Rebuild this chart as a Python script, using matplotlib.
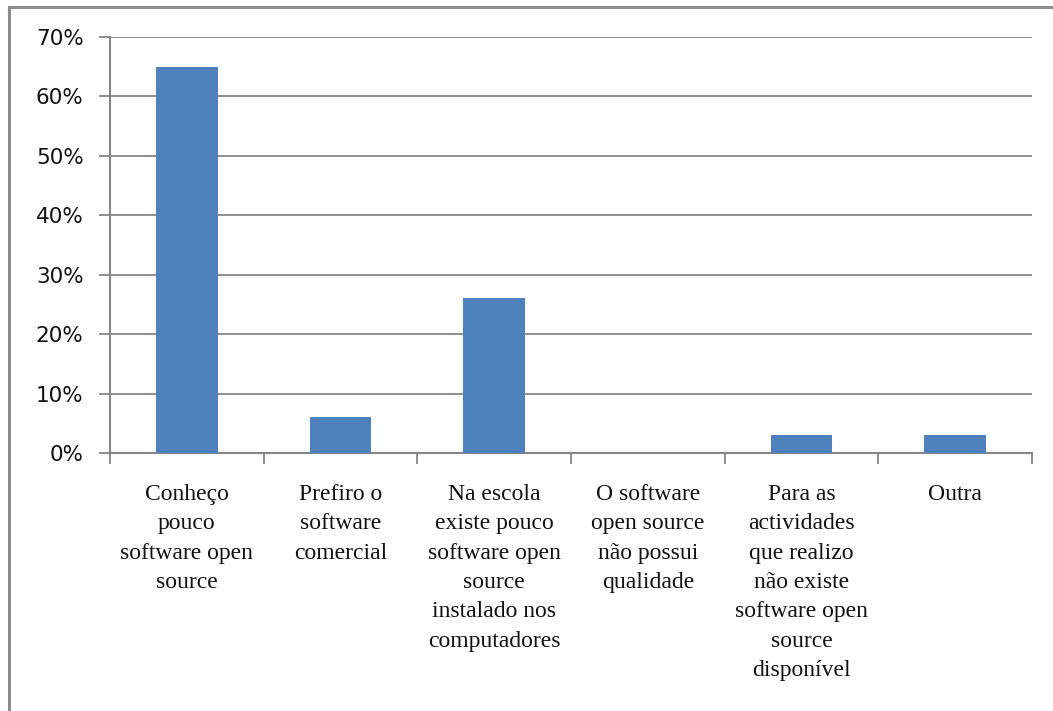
import matplotlib
matplotlib.use("Agg")
import matplotlib.pyplot as plt
from matplotlib.lines import Line2D
import numpy as np

categories = [
    "Conheço\npouco\nsoftware open\nsource",
    "Prefiro o\nsoftware\ncomercial",
    "Na escola\nexiste pouco\nsoftware open\nsource\ninstalado nos\ncomputadores",
    "O software\nopen source\nnão possui\nqualidade",
    "Para as\nactividades\nque realizo\nnão existe\nsoftware open\nsource\ndisponível",
    "Outra",
]
values = [65, 6, 26, 0, 3, 3]
yticks = [0, 10, 20, 30, 40, 50, 60, 70]
ytick_labels = ["0%", "10%", "20%", "30%", "40%", "50%", "60%", "70%"]

W, H = 1053, 711
fig = plt.figure(figsize=(W / 100, H / 100), dpi=100)
ax = fig.add_axes([110 / W, 1 - 453 / H, (1032 - 110) / W, (453 - 37) / H])

gray = "#868686"
x = np.arange(len(categories))
ax.bar(x, values, width=0.4, color="#4F81BD", zorder=3)

ax.set_xlim(-0.5, len(categories) - 0.5)
ax.set_ylim(0, 70)
ax.set_yticks(yticks)
ax.set_yticklabels(ytick_labels, fontsize=15.5, family="DejaVu Sans", color="#111111")
ax.yaxis.grid(True, color=gray, linewidth=1.3, zorder=0)
ax.tick_params(axis="y", length=8, width=1.3, color=gray, pad=11)

ax.set_xticks(x)
ax.set_xticklabels(categories, fontsize=17, family="Liberation Serif",
                   linespacing=1.53, color="#111111")
ax.set_xticks(np.arange(-0.5, len(categories), 1.0), minor=True)
ax.tick_params(axis="x", which="major", length=0, pad=22)
ax.tick_params(axis="x", which="minor", length=8, width=1.3, color=gray)

for side in ["top", "right"]:
    ax.spines[side].set_visible(False)
for side in ["left", "bottom"]:
    ax.spines[side].set_color(gray)
    ax.spines[side].set_linewidth(1.5)

# outer chart frame (top and left edges visible)
fig.add_artist(Line2D([8.5 / W, 1.0], [1 - 7 / H, 1 - 7 / H], color="#8c8c8c", linewidth=2.2,
                      transform=fig.transFigure))
fig.add_artist(Line2D([9 / W, 9 / W], [0, 1 - 7 / H], color="#8c8c8c", linewidth=2.2,
                      transform=fig.transFigure))

fig.savefig("out.png", dpi=100)
